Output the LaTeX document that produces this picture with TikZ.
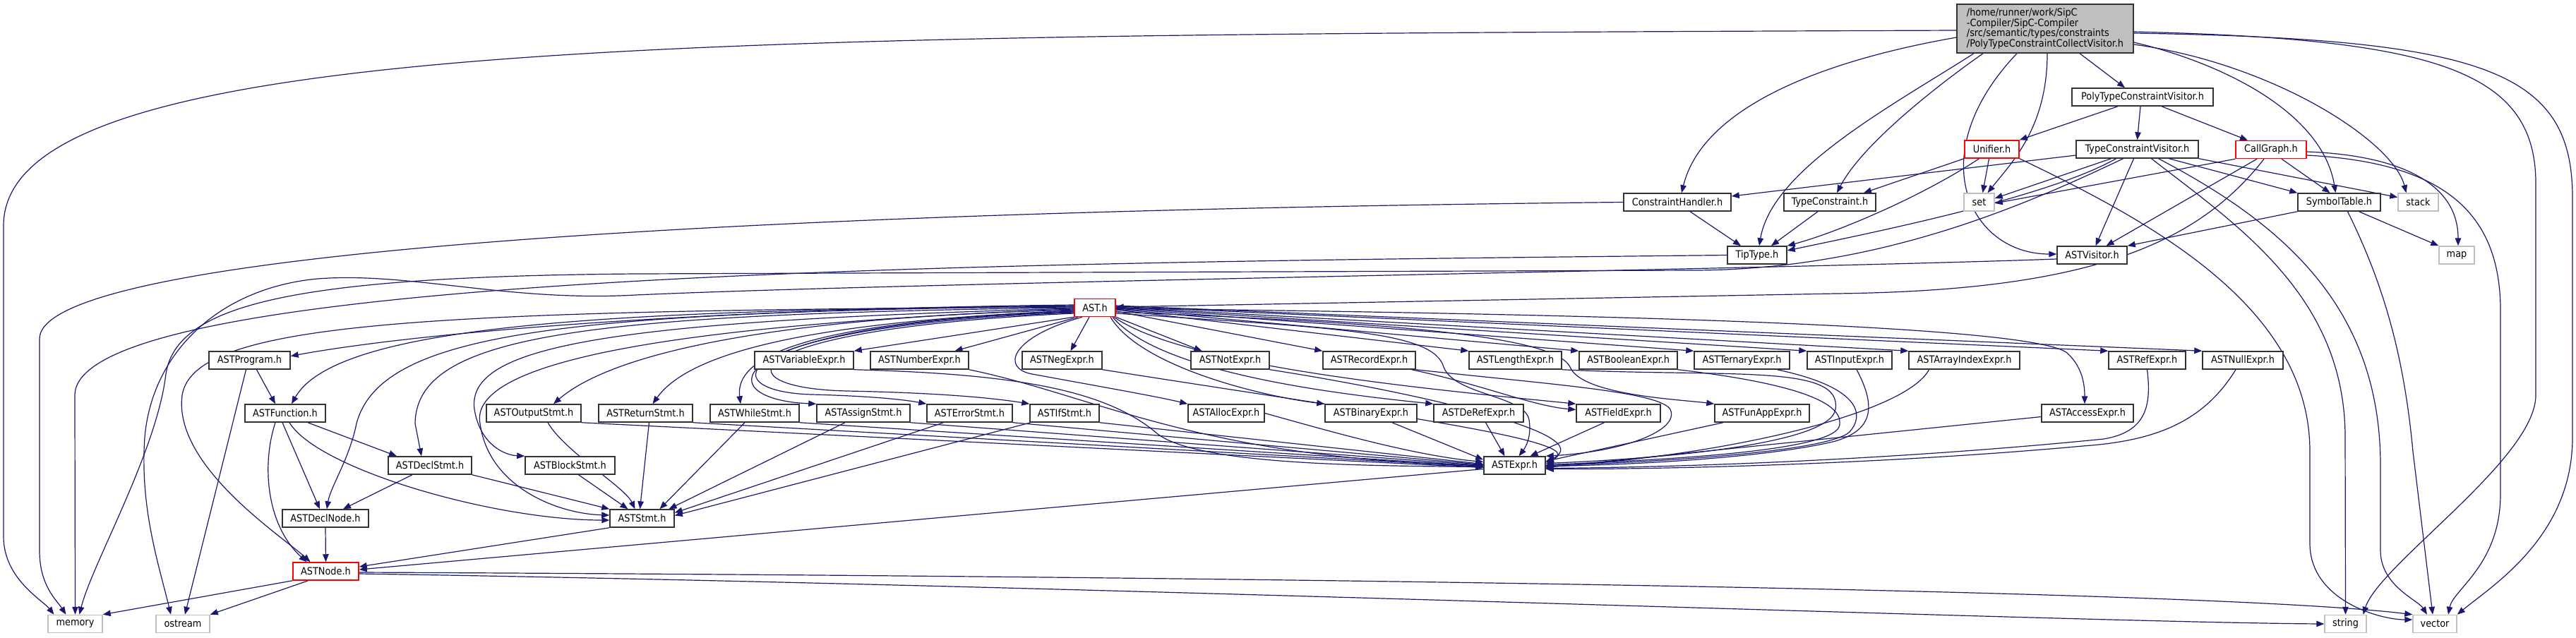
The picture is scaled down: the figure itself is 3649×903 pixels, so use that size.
\documentclass[tikz,border=0pt]{standalone}
\usepackage{fontspec}
\setmainfont{DejaVu Sans Condensed}
\usetikzlibrary{arrows.meta}
\definecolor{eblue}{HTML}{191970}
\definecolor{sysgray}{HTML}{BFBFBF}
\newcommand\lbl{\fontsize{14.3pt}{14.8pt}\selectfont}
\newcommand\mknode[5]{\node[#1, minimum width=#4pt] (#2) at (#3) {#5};}
\pgfdeclarelayer{bgl}
\pgfdeclarelayer{edgel}
\pgfsetlayers{bgl,edgel,main}
\tikzset{
  nd/.style={draw=black!80, line width=1.5pt, fill=white, inner sep=0pt, minimum height=25pt, font=\lbl, text=black},
  rednd/.style={nd, draw=red},
  sysnd/.style={nd, draw=sysgray},
  mainnd/.style={nd, fill=sysgray},
  e/.style={draw=eblue, line width=1.2pt, -{Triangle[length=11pt,width=8.5pt]}}
}
\begin{document}
\begin{tikzpicture}[x=1pt,y=-1pt]
\useasboundingbox (0,0) rectangle (3649,903);
\begin{pgfonlayer}{bgl}
\fill[white] (0,0) rectangle (3649,903);
\end{pgfonlayer}
% ---------------- nodes
\node[mainnd, minimum width=250pt, minimum height=69pt, align=left] (main) at (2897,40.5)
  {/home/runner/work/SipC\\-Compiler/SipC-Compiler\\/src/semantic/types/constraints\\/PolyTypeConstraintCollectVisitor.h};
\mknode{nd}{ptcv}{3035,137.5}{200}{PolyTypeConstraintVisitor.h}
\mknode{rednd}{unif}{2821.5,211.5}{77}{Unifier.h}
\mknode{nd}{tcv}{3027.5,211.5}{173}{TypeConstraintVisitor.h}
\mknode{rednd}{cg}{3217,212}{100}{CallGraph.h}
\mknode{nd}{ch}{2376,286.5}{152}{ConstraintHandler.h}
\mknode{nd}{tc}{2592,286.5}{130}{TypeConstraint.h}
\mknode{sysnd}{nset}{2803.5,286.5}{43}{set}
\mknode{nd}{symt}{3313.5,286.5}{117}{SymbolTable.h}
\mknode{sysnd}{nstack}{3425.5,286.5}{57}{stack}
\mknode{nd}{tip}{2489,361.5}{84}{TipType.h}
\mknode{nd}{astv}{2963.5,361.5}{99}{ASTVisitor.h}
\mknode{sysnd}{nmap}{3480,361.5}{50}{map}
\mknode{rednd}{ast}{1551,436}{58}{AST.h}
% row 1
\mknode{nd}{prog}{353.5,510.5}{115}{ASTProgram.h}
\mknode{nd}{varx}{1139,510.5}{140}{ASTVariableExpr.h}
\mknode{nd}{numx}{1302.5,510.5}{139}{ASTNumberExpr.h}
\mknode{nd}{negx}{1504.5,510.5}{113}{ASTNegExpr.h}
\mknode{nd}{notx}{1742.5,510.5}{111}{ASTNotExpr.h}
\mknode{nd}{recx}{1939.5,510.5}{131}{ASTRecordExpr.h}
\mknode{nd}{lenx}{2146.5,510.5}{131}{ASTLengthExpr.h}
\mknode{nd}{boolx}{2306.5,510.5}{139}{ASTBooleanExpr.h}
\mknode{nd}{terx}{2467.5,510.5}{135}{ASTTernaryExpr.h}
\mknode{nd}{inpx}{2620,510.5}{120}{ASTInputExpr.h}
\mknode{nd}{arrx}{2782.5,510.5}{157}{ASTArrayIndexExpr.h}
\mknode{nd}{refx}{3041.5,510.5}{109}{ASTRefExpr.h}
\mknode{nd}{nullx}{3177,510.5}{114}{ASTNullExpr.h}
% row 2
\mknode{nd}{func}{404,585.5}{114}{ASTFunction.h}
\mknode{nd}{outs}{756,585.5}{134}{ASTOutputStmt.h}
\mknode{nd}{rets}{914.5,585.5}{133}{ASTReturnStmt.h}
\mknode{nd}{whls}{1069,585.5}{126}{ASTWhileStmt.h}
\mknode{nd}{asgs}{1223,585.5}{132}{ASTAssignStmt.h}
\mknode{nd}{errs}{1373.5,585.5}{121}{ASTErrorStmt.h}
\mknode{nd}{ifs}{1508,585.5}{98}{ASTIfStmt.h}
\mknode{nd}{allx}{1737,585.5}{108}{ASTAllocExpr.h}
\mknode{nd}{binx}{1942,585.5}{130}{ASTBinaryExpr.h}
\mknode{nd}{derx}{2094.5,585.5}{127}{ASTDeRefExpr.h}
\mknode{nd}{fldx}{2292.5,585.5}{119}{ASTFieldExpr.h}
\mknode{nd}{funx}{2496,585.5}{134}{ASTFunAppExpr.h}
\mknode{nd}{accx}{2957,585.5}{130}{ASTAccessExpr.h}
% row 3
\mknode{nd}{dcls}{609,659.5}{118}{ASTDeclStmt.h}
\mknode{nd}{blks}{807.5,659.5}{127}{ASTBlockStmt.h}
\mknode{nd}{expr}{2145.5,659.5}{87}{ASTExpr.h}
% row 4
\mknode{nd}{dcln}{461,734.5}{122}{ASTDeclNode.h}
\mknode{nd}{stmt}{909.5,734.5}{91}{ASTStmt.h}
% row 5
\mknode{rednd}{astnode}{461.5,809.5}{93}{ASTNode.h}
% row 6
\mknode{sysnd}{mem}{106.5,884}{77}{memory}
\mknode{sysnd}{ostr}{259,884}{76}{ostream}
\mknode{sysnd}{str}{3322.5,884}{59}{string}
\mknode{sysnd}{vec}{3449,884}{62}{vector}

\begin{pgfonlayer}{edgel}
% ---- main
\draw[e] ([xshift=49pt]main.south) -- ([xshift=-25pt]ptcv.north);
\draw[e] ([yshift=-12.5pt]main.west) .. controls (2560,90) and (2410,160) .. ([xshift=6pt]ch.north);
\draw[e] ([xshift=-88pt]main.south) .. controls (2760,110) and (2640,200) .. ([xshift=10pt]tc.north);
\draw[e] ([xshift=-101pt]main.south) .. controls (2680,150) and (2510,240) .. ([xshift=3pt]tip.north);
\draw[e] ([xshift=-40pt]main.south) .. controls (2720,220) and (2790,360) .. ([yshift=1.5pt]astv.west);
\draw[e] ([xshift=3pt]main.south) .. controls (2900,180) and (2850,230) .. ([xshift=12pt]nset.north);
\draw[e] ([yshift=-19.5pt]main.east) .. controls (3150,90) and (3290,160) .. ([xshift=-5pt]symt.north);
\draw[e] ([yshift=-22.5pt]main.east) .. controls (3220,90) and (3390,200) .. ([xshift=-17pt]nstack.north);
\draw[e] ([yshift=-4.5pt]main.east) .. controls (3450,55) and (3592,100) .. (3592,260) -- (3592,560) .. controls (3592,650) and (3370,800) .. ([xshift=25pt]str.north);
\draw[e] ([yshift=-6.5pt]main.east) .. controls (3520,55) and (3644,100) .. (3644,280) -- (3644,620) .. controls (3644,760) and (3530,830) .. (vec.north east);
\draw[e] ([yshift=-2.5pt]main.west) .. controls (1000,50) and (5,50) .. (5,320) -- (5,760) .. controls (5,820) and (60,850) .. ([xshift=-30pt]mem.north);
% ---- PolyTypeConstraintVisitor
\draw[e] ([xshift=-35pt]ptcv.south) -- (unif.north east);
\draw[e] ([xshift=-3pt]ptcv.south) -- (tcv.north);
\draw[e] ([xshift=27pt]ptcv.south) -- ([xshift=-33pt]cg.north);
% ---- Unifier
\draw[e] (unif.south west) -- ([xshift=48pt]tc.north);
\draw[e] ([xshift=-4pt]unif.south) -- ([xshift=5pt]nset.north);
\draw[e] ([xshift=-18pt]unif.south) .. controls (2720,280) and (2600,330) .. (tip.north east);
\draw[e] (unif.south east) .. controls (3060,320) and (3272,440) .. (3272,640) -- (3272,770) .. controls (3272,850) and (3370,878) .. ([yshift=6pt]vec.west);
% ---- TypeConstraintVisitor
\draw[e] ([yshift=-8.5pt]tcv.west) -- ([yshift=8.5pt]ch.east);
\draw[e] ([xshift=-37pt]tcv.south) -- ([yshift=5.5pt]nset.east);
\draw[e] ([xshift=-30pt]tcv.south) .. controls (2900,280) and (2650,330) .. ([yshift=6.5pt]tip.east);
\draw[e] ([xshift=-5pt]tcv.south) -- ([xshift=5pt]astv.north);
\draw[e] ([xshift=45pt]tcv.south) -- (symt.north west);
\draw[e] (tcv.south east) -- ([yshift=7pt]nstack.west);
\draw[e] ([xshift=20pt]tcv.south) .. controls (3170,320) and (3322,420) .. (3322,620) -- (str.north);
\draw[e] ([xshift=30pt]tcv.south) .. controls (3240,320) and (3372,440) .. (3372,660) -- (3372,780) .. controls (3372,830) and (3425,850) .. ([xshift=-11pt]vec.north);
\draw[e] ([xshift=-20pt]tcv.south) .. controls (2850,300) and (2650,382) .. (2400,383) -- (900,388) .. controls (420,392) and (250,430) .. (235,530) .. controls (222,640) and (130,800) .. ([xshift=6pt]mem.north);
% ---- CallGraph
\draw[e] (cg.south west) -- ([yshift=-1.5pt]nset.east);
\draw[e] ([xshift=-20pt]cg.south) -- ([xshift=20pt]astv.north);
\draw[e] ([xshift=-10pt]cg.south) .. controls (3110,350) and (2950,412) .. (2600,416) -- ([yshift=1pt]ast.east);
\draw[e] ([xshift=15pt]cg.south) -- ([xshift=-13pt]symt.north);
\draw[e] ([yshift=-3pt]cg.east) .. controls (3400,220) and (3482,260) .. ([xshift=2pt]nmap.north);
\draw[e] ([yshift=-8pt]cg.east) .. controls (3460,230) and (3542,300) .. (3542,440) -- (3542,700) .. controls (3542,800) and (3475,835) .. ([xshift=19pt]vec.north);
% ---- SymbolTable
\draw[e] (symt.south west) -- (astv.north east);
\draw[e] ([xshift=28pt]symt.south) -- (nmap.north west);
\draw[e] ([xshift=12pt]symt.south) .. controls (3375,400) and (3405,500) .. (3418,640) -- ([xshift=-3pt]vec.north);
% ---- ConstraintHandler, TypeConstraint, TipType, ASTVisitor
\draw[e] ([xshift=18pt]ch.south) -- ([xshift=-23pt]tip.north);
\draw[e] (ch.west) .. controls (1000,300) and (56,360) .. (56,480) -- (56,780) .. controls (56,830) and (80,850) .. ([xshift=-13pt]mem.north);
\draw[e] ([xshift=-17pt]tc.south) -- ([xshift=20pt]tip.north);
\draw[e] (tip.west) .. controls (1500,372) and (106,380) .. (106,560) -- (mem.north);
\draw[e] ([yshift=-5.5pt]astv.west) .. controls (2500,382) and (1300,400) .. (900,418) .. controls (720,428) and (580,385) .. (450,395) .. controls (310,408) and (215,500) .. (205,620) .. controls (198,720) and (225,800) .. ([xshift=-17pt]ostr.north);
% ---- AST.h fan, left
\draw[e] ([yshift=4pt]ast.west) .. controls (1000,438) and (600,470) .. ([yshift=6pt]prog.east);
\draw[e] ([yshift=3pt]ast.west) .. controls (900,440) and (480,455) .. ([xshift=9pt]func.north);
\draw[e] ([yshift=2pt]ast.west) .. controls (800,442) and (540,470) .. (505,600) .. controls (495,650) and (468,690) .. ([xshift=2pt]dcln.north);
\draw[e] ([yshift=1pt]ast.west) .. controls (600,440) and (275,455) .. (258,560) .. controls (245,660) and (400,760) .. ([xshift=-22pt]astnode.north);
\draw[e] (ast.west) .. controls (820,445) and (590,475) .. (588,600) -- ([xshift=-12pt]dcls.north);
\draw[e] ([yshift=-1pt]ast.west) .. controls (860,455) and (660,490) .. (672,580) .. controls (680,630) and (715,645) .. (blks.north west);
\draw[e] ([yshift=-2pt]ast.west) .. controls (900,462) and (665,520) .. (680,600) .. controls (692,690) and (790,728) .. ([yshift=4.5pt]stmt.west);
\draw[e] ([yshift=-3pt]ast.west) .. controls (1150,448) and (880,490) .. ([xshift=28pt]outs.north);
\draw[e] ([yshift=-4pt]ast.west) .. controls (1250,452) and (990,480) .. ([xshift=10pt]rets.north);
\draw[e] ([yshift=-5pt]ast.west) .. controls (1160,455) and (1040,500) .. ([xshift=-20pt]whls.north);
\draw[e] ([yshift=-6pt]ast.west) .. controls (1010,458) and (1000,566) .. (asgs.north west);
\draw[e] ([yshift=-7pt]ast.west) .. controls (1020,462) and (1005,555) .. (1150,559) .. controls (1230,561) and (1280,566) .. (errs.north west);
\draw[e] ([yshift=-8pt]ast.west) .. controls (1035,466) and (1015,550) .. (1200,554) .. controls (1350,557) and (1420,566) .. (ifs.north west);
% ---- AST.h fan, bottom
\draw[e] (ast.south west) -- (varx.north east);
\draw[e] ([xshift=-24pt]ast.south) -- ([xshift=50pt]numx.north);
\draw[e] ([xshift=-8pt]ast.south) -- ([xshift=12pt]negx.north);
\draw[e] (ast.south east) -- ([xshift=-40pt]notx.north);
\draw[e] ([xshift=-18pt]ast.south) .. controls (1430,478) and (1418,522) .. (1462,530) .. controls (1560,548) and (1640,562) .. (allx.north west);
\draw[e] ([xshift=22pt]ast.south) .. controls (1615,520) and (1790,562) .. (binx.north west);
\draw[e] ([xshift=25pt]ast.south) .. controls (1640,525) and (1870,556) .. (derx.north west);
\draw[e] ([xshift=27pt]ast.south) .. controls (1680,520) and (2030,552) .. (fldx.north west);
% ---- AST.h fan, right
\draw[e] ([yshift=-5pt]ast.east) -- (recx.north west);
\draw[e] ([yshift=-3pt]ast.east) -- (lenx.north west);
\draw[e] ([yshift=-2pt]ast.east) -- (boolx.north west);
\draw[e] ([yshift=-1pt]ast.east) -- (terx.north west);
\draw[e] (ast.east) -- (inpx.north west);
\draw[e] ([yshift=1pt]ast.east) -- (arrx.north west);
\draw[e] ([yshift=2pt]ast.east) -- (refx.north west);
\draw[e] ([yshift=3pt]ast.east) -- (nullx.north west);
\draw[e] ([yshift=-1pt]ast.east) .. controls (2300,445) and (2880,462) .. (2928,500) .. controls (2950,520) and (2953,545) .. ([xshift=-4pt]accx.north);
\draw[e] ([yshift=-6pt]ast.east) .. controls (1900,455) and (2200,470) .. (2224,520) .. controls (2240,560) and (2380,566) .. (funx.north west);
\draw[e] ([yshift=-8pt]ast.east) .. controls (1900,465) and (2030,470) .. (2045,520) .. controls (2060,560) and (2160,560) .. (2166,595) .. controls (2170,620) and (2160,635) .. ([xshift=6pt]expr.north);
% ---- expressions into ASTExpr
\draw[e] ([xshift=60pt]recx.south) .. controls (2100,545) and (2170,575) .. ([yshift=5pt]fldx.west);
\draw[e] (recx.south east) .. controls (2200,545) and (2350,555) .. (2366,580) .. controls (2380,610) and (2300,640) .. (expr.north east);
\draw[e] ([xshift=-20pt]fldx.south) -- ([xshift=22pt]expr.north);
\draw[e] ([xshift=10pt]derx.south) -- ([xshift=-14pt]expr.north);
\draw[e] ([xshift=30pt]binx.south) -- ([yshift=8pt]expr.west);
\draw[e] ([xshift=-55pt]funx.south) -- ([yshift=6pt]expr.east);
\draw[e] (lenx.south east) .. controls (2450,535) and (2610,515) .. (2600,580) .. controls (2592,630) and (2350,650) .. ([yshift=3pt]expr.east);
\draw[e] (boolx.south east) .. controls (2560,545) and (2615,575) .. (2605,605) .. controls (2590,640) and (2350,652) .. ([yshift=1pt]expr.east);
\draw[e] ([xshift=50pt]terx.south) .. controls (2640,550) and (2640,590) .. (2620,612) .. controls (2590,640) and (2350,655) .. (expr.east);
\draw[e] ([xshift=10pt]inpx.south) .. controls (2660,580) and (2650,610) .. (2600,625) .. controls (2520,645) and (2350,658) .. ([yshift=-1pt]expr.east);
\draw[e] ([xshift=-50pt]arrx.south) .. controls (2700,585) and (2450,645) .. ([yshift=-2pt]expr.east);
\draw[e] ([yshift=-5pt]accx.west) -- ([yshift=-3pt]expr.east);
\draw[e] (refx.south) .. controls (3048,575) and (3040,612) .. (2980,622) .. controls (2700,650) and (2400,662) .. ([yshift=-4pt]expr.east);
\draw[e] ([xshift=-10pt]nullx.south) .. controls (3120,600) and (3050,625) .. (2950,632) .. controls (2700,655) and (2400,665) .. ([yshift=-5pt]expr.east);
\draw[e] (varx.south east) .. controls (1450,530) and (1570,555) .. (1640,615) .. controls (1700,660) and (1950,660) .. ([yshift=-2pt]expr.west);
\draw[e] (numx.south east) .. controls (1550,560) and (1700,650) .. (expr.west);
\draw[e] (negx.south east) .. controls (1950,585) and (2260,625) .. ([yshift=4pt]expr.east);
\draw[e] (notx.south east) .. controls (2000,555) and (2270,615) .. ([yshift=5pt]expr.east);
\draw[e] (allx.east) .. controls (1880,610) and (2000,645) .. ([yshift=5pt]expr.west);
% ---- statements
\draw[e] (outs.south east) -- ([yshift=-3pt]expr.west);
\draw[e] (rets.south east) -- ([yshift=-2pt]expr.west);
\draw[e] (whls.south east) -- ([yshift=-1pt]expr.west);
\draw[e] (asgs.south east) -- (expr.west);
\draw[e] (errs.south east) -- ([yshift=1pt]expr.west);
\draw[e] (ifs.south east) -- ([yshift=2pt]expr.west);
\draw[e] ([xshift=20pt]outs.south) .. controls (800,640) and (885,690) .. ([xshift=-10pt]stmt.north);
\draw[e] ([xshift=5pt]rets.south) -- ([xshift=-3pt]stmt.north);
\draw[e] ([xshift=-14pt]whls.south) -- ([xshift=25pt]stmt.north);
\draw[e] ([xshift=-26pt]asgs.south) -- ([xshift=38pt]stmt.north);
\draw[e] ([xshift=-37pt]errs.south) -- ([yshift=8pt]stmt.east);
\draw[e] ([xshift=-48pt]ifs.south) -- ([yshift=4pt]stmt.east);
\draw[e] (dcls.south east) -- (stmt.north west);
\draw[e] ([xshift=12pt]blks.south) -- ([xshift=-20pt]stmt.north);
\draw[e] ([xshift=6pt]func.south) .. controls (450,665) and (700,737) .. ([yshift=-2.5pt]stmt.west);
\draw[e] ([xshift=-4pt]func.south) -- ([xshift=-8pt]dcln.north);
\draw[e] ([xshift=32pt]func.south) -- ([xshift=-47pt]dcls.north);
\draw[e] ([xshift=-14pt]func.south) .. controls (370,660) and (378,745) .. ([xshift=-27pt]astnode.north);
\draw[e] ([xshift=10pt]prog.south) -- ([xshift=-14pt]func.north);
\draw[e] ([xshift=-5pt]prog.south) -- ([xshift=3pt]ostr.north);
\draw[e] ([xshift=-25pt]dcls.south) -- ([xshift=25pt]dcln.north);
\draw[e] (dcln.south) -- (astnode.north);
\draw[e] (stmt.south west) -- ([yshift=6.5pt]astnode.east);
\draw[e] ([yshift=-5pt]expr.west) -- ([yshift=2.5pt]astnode.east);
% ---- ASTNode
\draw[e] (astnode.south west) -- (mem.north east);
\draw[e] ([xshift=-25pt]astnode.south) -- (ostr.north east);
\draw[e] ([yshift=-1.5pt]astnode.east) .. controls (1500,815) and (3100,832) .. (vec.north west);
\draw[e] ([yshift=-3.5pt]astnode.east) .. controls (1500,828) and (2950,882) .. (str.west);
\end{pgfonlayer}
\end{tikzpicture}
\end{document}
